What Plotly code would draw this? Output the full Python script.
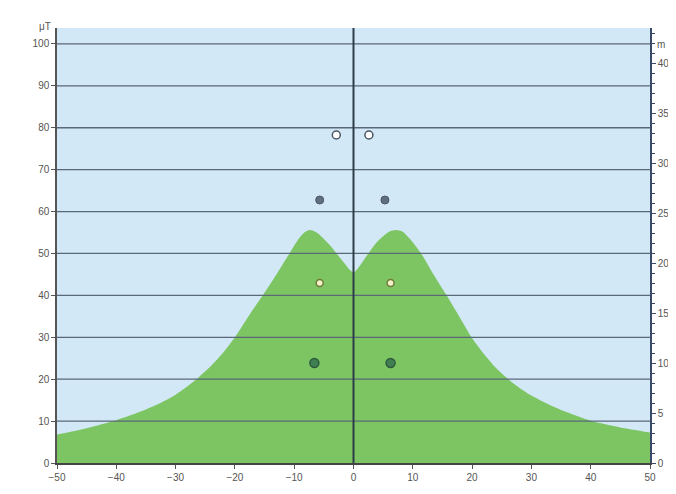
import plotly.graph_objects as go

# Magnetic flux density profile (μT) across the corridor (m)
profile_x = [-50, -45, -40, -36, -33, -30, -28, -26, -24, -22, -20, -17.7, -15.3, -13, -10.8, -9.5, -8.3, -7.4,
             -6.2, -4, -2, 0, 2, 4, 6, 7.2, 8.3, 9.5, 11.4, 13.5, 15.7, 17.8, 19.9,
             22, 24, 26, 28, 30, 33, 36, 40, 45, 50]
profile_b = [6.8, 8.3, 10.2, 12.2, 14.0, 16.3, 18.3, 20.6, 23.2, 26.3, 30.0, 35.0, 40.0, 45.0, 50.0, 53.0, 55.0, 55.6,
             55.0, 52.0, 48.5, 45.5, 49.0, 52.8, 55.2, 55.6, 55.2, 53.5, 50.0, 45.0, 40.0, 35.0, 30.0,
             26.0, 22.7, 20.1, 17.9, 16.1, 13.9, 12.1, 10.1, 8.5, 7.3]

# Conductor positions (m, m)
cond_top_x = [-2.9, 2.6]
cond_top_h = [32.8, 32.8]
cond_upper_x = [-5.7, 5.3]
cond_upper_h = [26.3, 26.3]
cond_mid_x = [-5.7, 6.25]
cond_mid_h = [18.0, 18.0]
cond_low_x = [-6.6, 6.25]
cond_low_h = [10.0, 10.0]

x_ticks = [-50, -40, -30, -20, -10, 0, 10, 20, 30, 40, 50]
left_ticks = [0, 10, 20, 30, 40, 50, 60, 70, 80, 90, 100]
right_ticks = [0, 5, 10, 15, 20, 25, 30, 35, 40]

BLUE = "#d2e8f6"
GREEN = "#7dc463"
GRID = "#5a6878"
FONT = "Liberation Sans"

fig = go.Figure()

fig.add_trace(go.Scatter(x=profile_x, y=profile_b, mode="lines", line=dict(width=0, shape="spline", smoothing=0.7),
                         fill="tozeroy", fillcolor=GREEN, hoverinfo="skip", showlegend=False))

fig.add_trace(go.Scatter(x=cond_top_x, y=cond_top_h, yaxis="y2", mode="markers",
                         marker=dict(size=8, color="white", line=dict(color="#4a5560", width=1.5)), showlegend=False))
fig.add_trace(go.Scatter(x=cond_upper_x, y=cond_upper_h, yaxis="y2", mode="markers",
                         marker=dict(size=8, color="#5f6e80", line=dict(color="#4a5868", width=1)), showlegend=False))
fig.add_trace(go.Scatter(x=cond_mid_x, y=cond_mid_h, yaxis="y2", mode="markers",
                         marker=dict(size=7, color="#f4f2c8", line=dict(color="#6f7a3a", width=1.5)), showlegend=False))
fig.add_trace(go.Scatter(x=cond_low_x, y=cond_low_h, yaxis="y2", mode="markers",
                         marker=dict(size=9, color="#3f7f52", line=dict(color="#2f5a3e", width=1.5)), showlegend=False))

shapes = []
for v in left_ticks[1:]:
    shapes.append(dict(type="line", xref="paper", x0=0, x1=1, yref="y", y0=v, y1=v,
                       line=dict(color=GRID, width=1.3), layer="above"))
shapes.append(dict(type="line", xref="x", x0=0, x1=0, yref="paper", y0=0, y1=1,
                   line=dict(color="#2e3c4a", width=2), layer="above"))

fig.update_layout(
    width=668, height=486,
    margin=dict(l=49, r=26, t=20, b=31, autoexpand=False),
    paper_bgcolor="white", plot_bgcolor=BLUE,
    font=dict(family=FONT, size=10, color="#555555"),
    shapes=shapes,
    xaxis=dict(range=[-50, 50], tickvals=x_ticks, ticks="outside", ticklen=4, tickcolor="#555",
               showgrid=False, zeroline=False, showline=True, linecolor="#444", linewidth=1.5,
               automargin=False, tickfont=dict(size=10, color="#555")),
    yaxis=dict(range=[0, 103.8], tickvals=left_ticks, ticks="outside", ticklen=4, tickcolor="#555",
               showgrid=False, zeroline=False, showline=True, linecolor="#555", linewidth=1.5,
               automargin=False, tickfont=dict(size=10, color="#555")),
    yaxis2=dict(range=[0, 43.5], tickvals=right_ticks, overlaying="y", side="right", ticks="outside",
                ticklen=4, tickcolor="#3a4a6a", showgrid=False, zeroline=False, showline=True,
                linecolor="#3a4a6a", linewidth=1.5, automargin=False, tickfont=dict(size=10, color="#555"),
                minor=dict(dtick=1, ticks="outside", ticklen=3, tickcolor="#3a4a6a")),
    annotations=[
        dict(text="μT", xref="paper", yref="paper", x=0, y=1, xshift=-20, yshift=9,
             showarrow=False, font=dict(size=10, color="#555")),
        dict(text="m", xref="paper", yref="y2", x=1, y=43.5, xshift=17, yshift=-16,
             showarrow=False, font=dict(size=10, color="#555")),
    ],
)

fig.write_html("out.html")
